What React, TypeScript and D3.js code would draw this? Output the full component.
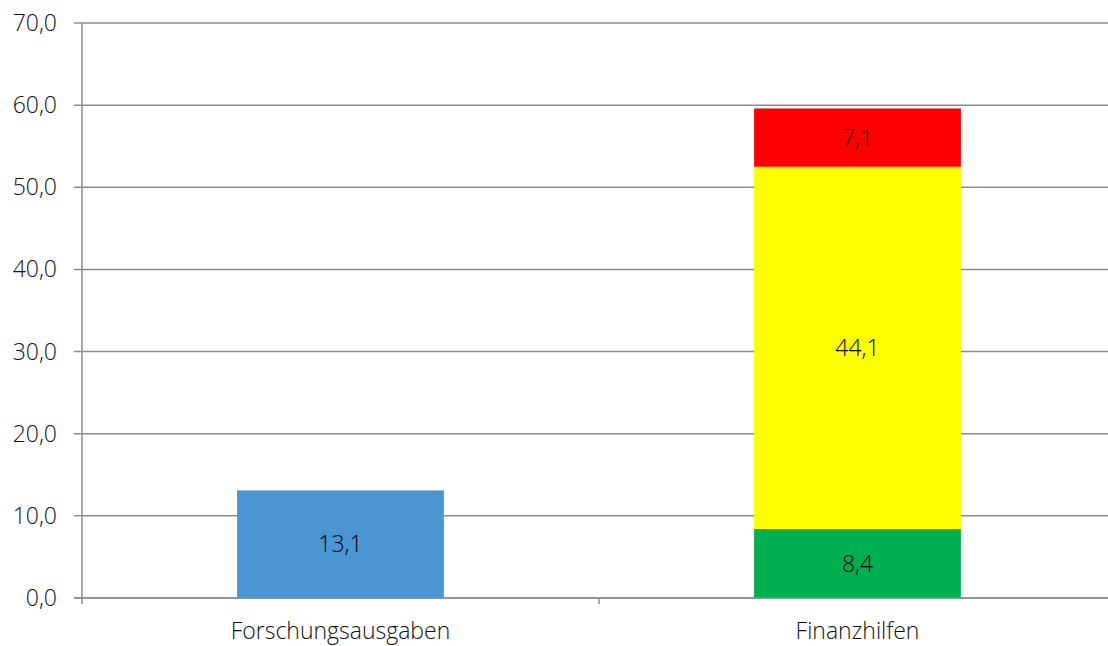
import React, { useEffect, useRef } from 'react'
import * as d3 from 'd3'

// data
const categories = ['Forschungsausgaben', 'Finanzhilfen']
const blueValues = [13.1, 0]
const greenValues = [0, 8.4]
const yellowValues = [0, 44.1]
const redValues = [0, 7.1]
const seriesColors = ['#4a96d3', '#00b050', '#ffff00', '#ff0000']
const yTicks = [0, 10, 20, 30, 40, 50, 60, 70]

const W = 1108
const H = 646
const margin = { top: 23, right: -8, bottom: 48, left: 82 }

const App = () => {
  const ref = useRef<SVGSVGElement>(null)

  useEffect(() => {
    const svg = d3.select(ref.current)
    svg.selectAll('*').remove()

    const font = "'Open Sans', 'Segoe UI', sans-serif"
    const fs = '23px'
    const width = W - margin.left - margin.right
    const height = H - margin.top - margin.bottom

    const x = d3.scaleBand().domain(categories).range([0, width]).padding(0)
    const y = d3.scaleLinear().domain([0, 70]).range([height, 0])

    const g = svg.append('g').attr('transform', 'translate(' + margin.left + ',' + margin.top + ')')

    // gridlines with small left ticks
    g.selectAll('.grid')
      .data(yTicks)
      .enter().append('line')
      .attr('x1', -8)
      .attr('x2', width)
      .attr('y1', d => y(d))
      .attr('y2', d => y(d))
      .attr('stroke', '#8c8c8c')
      .attr('stroke-width', 1.5)

    g.selectAll('.ylab')
      .data(yTicks)
      .enter().append('text')
      .attr('x', -25)
      .attr('y', d => y(d))
      .attr('dy', '0.35em')
      .attr('text-anchor', 'end')
      .style('font-family', font)
      .style('font-weight', 300)
      .style('font-size', fs)
      .attr('fill', '#111')
      .text(d => d3.format('.1f')(d).replace('.', ','))

    // stacked bars
    const rows = categories.map((c, i) => ({
      cat: c,
      s0: blueValues[i],
      s1: greenValues[i],
      s2: yellowValues[i],
      s3: redValues[i],
    }))
    const stack = d3.stack<any>().keys(['s0', 's1', 's2', 's3'])
    const layers = stack(rows)
    const bw = x.bandwidth() * 0.4

    layers.forEach((layer, li) => {
      layer.forEach(seg => {
        const v = seg[1] - seg[0]
        if (v <= 0) return
        const cx = (x(seg.data.cat) as number) + x.bandwidth() / 2
        g.append('rect')
          .attr('x', cx - bw / 2)
          .attr('width', bw)
          .attr('y', y(seg[1]))
          .attr('height', y(seg[0]) - y(seg[1]))
          .attr('fill', seriesColors[li])
        g.append('text')
          .attr('x', cx)
          .attr('y', (y(seg[0]) + y(seg[1])) / 2)
          .attr('dy', '0.35em')
          .attr('text-anchor', 'middle')
          .style('font-family', font)
          .style('font-weight', 300)
          .style('font-size', fs)
          .attr('fill', '#000')
          .text(d3.format('.1f')(v).replace('.', ','))
      })
    })

    // axes lines
    g.append('line')
      .attr('x1', 0).attr('x2', 0)
      .attr('y1', 0).attr('y2', height + 6)
      .attr('stroke', '#8c8c8c').attr('stroke-width', 1.5)
    g.append('line')
      .attr('x1', -8).attr('x2', width)
      .attr('y1', height).attr('y2', height)
      .attr('stroke', '#8c8c8c').attr('stroke-width', 1.5)
    g.selectAll('.xtick')
      .data(categories.slice(1))
      .enter().append('line')
      .attr('x1', d => x(d) as number).attr('x2', d => x(d) as number)
      .attr('y1', height).attr('y2', height + 6)
      .attr('stroke', '#8c8c8c').attr('stroke-width', 1.5)

    g.selectAll('.xlab')
      .data(categories)
      .enter().append('text')
      .attr('x', d => (x(d) as number) + x.bandwidth() / 2)
      .attr('y', height + 41)
      .attr('text-anchor', 'middle')
      .style('font-family', font)
      .style('font-weight', 300)
      .style('font-size', fs)
      .attr('fill', '#111')
      .text(d => d)
  }, [])

  return (
    <svg ref={ref} width={W} height={H}
      style={{ position: 'absolute', left: 0, top: 0, background: '#fff' }} />
  )
}

export default App
